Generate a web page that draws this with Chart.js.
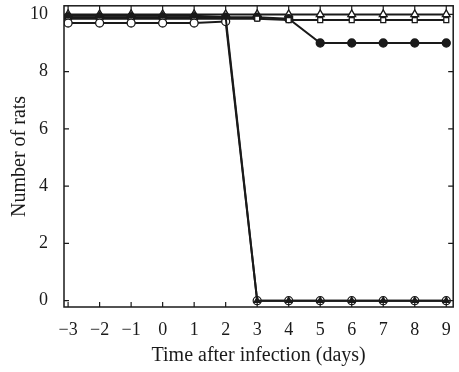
<!DOCTYPE html>
<html>
<head>
<meta charset="utf-8">
<script src="https://cdn.jsdelivr.net/npm/chart.js@4"></script>
<style>
  html, body { margin: 0; padding: 0; background: #fff; }
  #wrap { width: 459px; height: 372px; }
</style>
</head>
<body>
<div id="wrap"><canvas id="grafico"></canvas></div>
<script>
// dias e valores
const dias = [-3, -2, -1, 0, 1, 2, 3, 4, 5, 6, 7, 8, 9];
const yTicks = [0, 2, 4, 6, 8, 10];

const trianguloAberto = [10, 10, 10, 10, 10, 10, 10, 10, 10, 10, 10, 10, 10];
const quadradoAberto = [9.85, 9.85, 9.85, 9.85, 9.85, 9.85, 9.85, 9.8, 9.8, 9.8, 9.8, 9.8, 9.8];
const circuloCheio = [9.9, 9.9, 9.9, 9.9, 9.9, 9.9, 9.9, 9.85, 9, 9, 9, 9, 9];
const trianguloCheio = [9.95, 9.95, 9.95, 9.95, 9.95, 9.9, 0, 0, 0, 0, 0, 0, 0];
const circuloAberto = [9.7, 9.7, 9.7, 9.7, 9.7, 9.75, 0, 0, 0, 0, 0, 0, 0];

const COR = '#1a1a1a';
const FONTE = "'Liberation Serif', 'DejaVu Serif', serif";

function serie(valores, estilo, cheio, raio) {
    return {
        data: dias.map((d, i) => ({ x: d, y: valores[i] })).filter(p => p.y !== null),
        borderColor: COR,
        borderWidth: 2,
        pointStyle: estilo,
        pointRadius: raio,
        pointBorderWidth: 1.3,
        pointBorderColor: COR,
        pointBackgroundColor: cheio ? COR : '#fff',
        tension: 0
    };
}

// moldura e ticks internos nos quatro lados
const moldura = {
    id: 'moldura',
    afterDraw(chart) {
        const { ctx, chartArea: a, scales } = chart;
        ctx.save();
        ctx.strokeStyle = COR;
        ctx.lineWidth = 1.5;
        ctx.strokeRect(a.left, a.top, a.right - a.left, a.bottom - a.top);
        ctx.lineWidth = 1.2;
        ctx.beginPath();
        dias.forEach(d => {
            const px = scales.x.getPixelForValue(d);
            ctx.moveTo(px, a.bottom); ctx.lineTo(px, a.bottom - 5);
            ctx.moveTo(px, a.top); ctx.lineTo(px, a.top + 5);
        });
        yTicks.forEach(v => {
            const py = scales.y.getPixelForValue(v);
            ctx.moveTo(a.left, py); ctx.lineTo(a.left + 5, py);
            ctx.moveTo(a.right, py); ctx.lineTo(a.right - 5, py);
        });
        ctx.stroke();
        ctx.restore();
    }
};

new Chart(document.getElementById('grafico'), {
    type: 'line',
    data: {
        // o primeiro dataset fica por cima
        datasets: [
            serie(trianguloCheio, 'triangle', true, 3.5),
            serie(circuloAberto, 'circle', false, 4),
            serie(quadradoAberto, 'rect', false, 3.5),
            serie(circuloCheio, 'circle', true, 4),
            serie(trianguloAberto, 'triangle', false, 4.5)
        ]
    },
    options: {
        responsive: true,
        maintainAspectRatio: false,
        animation: false,
        layout: { padding: { top: 5, right: 5, left: 8, bottom: 4 } },
        plugins: { legend: { display: false }, tooltip: { enabled: false } },
        scales: {
            x: {
                type: 'linear',
                min: -3.13, max: 9.22,
                afterBuildTicks: s => { s.ticks = dias.map(v => ({ value: v })); },
                afterFit: s => { s.height = 61; s.paddingLeft = 0; s.paddingRight = 0; },
                grid: { display: false },
                border: { display: false },
                ticks: {
                    color: COR,
                    font: { family: FONTE, size: 18 },
                    padding: 4,
                    maxRotation: 0,
                    callback: v => (v < 0 ? '\u2212' + Math.abs(v) : String(v))
                },
                title: {
                    display: true,
                    text: 'Time after infection (days)',
                    color: COR,
                    font: { family: FONTE, size: 20 },
                    padding: { top: 2, bottom: 0 }
                }
            },
            y: {
                min: -0.22, max: 10.3,
                afterBuildTicks: s => { s.ticks = yTicks.map(v => ({ value: v })); },
                afterFit: s => { s.width = 56; s.paddingTop = 0; s.paddingBottom = 0; },
                grid: { display: false },
                border: { display: false },
                ticks: {
                    color: COR,
                    font: { family: FONTE, size: 18 },
                    padding: 8
                },
                title: {
                    display: true,
                    text: 'Number of rats',
                    color: COR,
                    font: { family: FONTE, size: 20 },
                    padding: { top: 0, bottom: 2 }
                }
            }
        }
    },
    plugins: [moldura]
});
</script>
</body>
</html>
